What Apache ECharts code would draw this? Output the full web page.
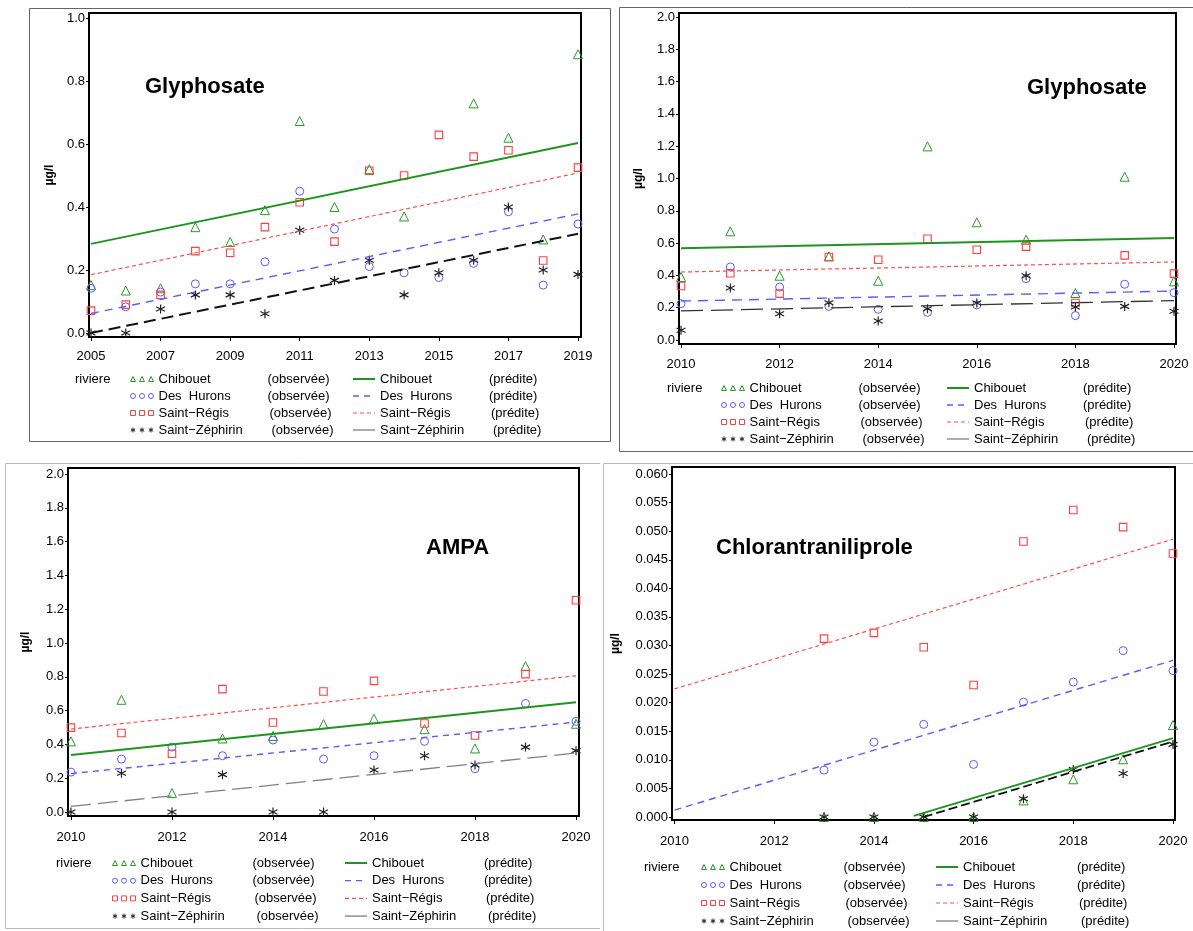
<!DOCTYPE html>
<html><head><meta charset="utf-8">
<script src="https://cdn.jsdelivr.net/npm/echarts@6/dist/echarts.min.js"></script>
<style>html,body{margin:0;padding:0;background:#fff}#c{width:1193px;height:931px}</style>
</head><body><div id="c"></div>
<script>
// ---------- data ----------
const rivers = ['Chibouet', 'Des  Hurons', 'Saint\u2212Régis', 'Saint\u2212Zéphirin'];
const yearsA = [2005,2006,2007,2008,2009,2010,2011,2012,2013,2014,2015,2016,2017,2018,2019];
const yearsB = [2010,2011,2012,2013,2014,2015,2016,2017,2018,2019,2020];
const yearsC = [2013,2014,2015,2016,2017,2018,2019,2020];
const xTicksA = [2005,2007,2009,2011,2013,2015,2017,2019];
const xTicksB = [2010,2012,2014,2016,2018,2020];
const yTicks1 = [0,0.2,0.4,0.6,0.8,1.0];
const yTicks2 = [0,0.2,0.4,0.6,0.8,1.0,1.2,1.4,1.6,1.8,2.0];
const yTicks3 = [0,0.005,0.01,0.015,0.02,0.025,0.03,0.035,0.04,0.045,0.05,0.055,0.06];
const titles = ['Glyphosate', 'Glyphosate', 'AMPA', 'Chlorantraniliprole'];

// Panel 1 : Glyphosate 2005-2019
const chibA = [0.152,0.135,0.142,0.336,0.289,0.39,0.673,0.40,0.52,0.37,null,0.729,0.62,0.297,0.885];
const hurA  = [0.142,0.083,0.13,0.156,0.156,0.226,0.45,0.33,0.211,0.191,0.176,0.221,0.385,0.152,0.346];
const regA  = [0.071,0.09,0.121,0.26,0.255,0.336,0.415,0.29,0.515,0.50,0.629,0.56,0.58,0.23,0.525];
const zepA  = [0.0,0.0,0.076,0.121,0.121,0.061,0.326,0.167,0.231,0.121,0.191,0.231,0.40,0.20,0.186];
const predXA = [2005, 2019];
const predChibA = [0.283, 0.603];
const predHurA  = [0.062, 0.378];
const predRegA  = [0.185, 0.508];
const predZepA  = [0.0, 0.315];

// Panel 2 : Glyphosate 2010-2020
const chibB = [0.39,0.673,0.398,0.518,0.367,1.199,0.729,0.621,0.291,1.011,0.363];
const hurB  = [0.225,0.452,0.328,0.208,0.19,0.171,0.217,0.38,0.151,0.345,0.293];
const regB  = [0.334,0.413,0.287,0.514,0.497,0.627,0.559,0.578,0.229,0.524,0.411];
const zepB  = [0.06,0.322,0.163,0.231,0.118,0.194,0.229,0.398,0.204,0.208,0.178];
const predXB = [2010, 2020];
const predChibB = [0.568, 0.632];
const predHurB  = [0.241, 0.303];
const predRegB  = [0.421, 0.483];
const predZepB  = [0.18, 0.244];

// Panel 3 : AMPA 2010-2020
const chibC = [0.418,0.664,0.112,0.435,0.45,0.52,0.552,0.49,0.376,0.863,0.522];
const hurC  = [0.236,0.313,0.384,0.333,0.426,0.313,0.333,0.418,0.256,0.642,0.536];
const regC  = [0.499,0.467,0.345,0.727,0.53,0.713,0.776,0.524,0.453,0.816,1.253];
const zepC  = [0,0.229,0,0.221,0,0,0.248,0.333,0.278,0.384,0.363];
const predChibC = [0.337, 0.65];
const predHurC  = [0.227, 0.532];
const predRegC  = [0.491, 0.806];
const predZepC  = [0.033, 0.349];

// Panel 4 : Chlorantraniliprole 2013-2020
const chibD = [0,0,0,0,0.0029,0.0066,0.0101,0.0161];
const hurD  = [0.0082,0.0131,0.0162,0.0092,0.0201,0.0236,0.0291,0.0256];
const regD  = [0.0312,0.0322,0.0297,0.0231,0.0482,0.0537,0.0507,0.0461];
const zepD  = [0,0,0,0,0.0032,0.0083,0.0076,0.0127];
const predXChibD = [2014.8, 2020];
const predChibD  = [0.0002, 0.0138];
const predXHurD  = [2010, 2020];
const predHurD   = [0.0012, 0.0274];
const predXRegD  = [2010, 2020];
const predRegD   = [0.0224, 0.0486];
const predXZepD  = [2015, 2020];
const predZepD   = [0.0, 0.0132];

// ---------- styles ----------
const FONT = "'Liberation Sans', Arial, Helvetica, sans-serif";
const GREEN = '#2a9a2a', BLUE = '#5b5bff', RED = '#ff4040', BLACK = '#222', GREY = '#808080';
const CLEAR = 'rgba(255,255,255,0)';
const ASTER = 'path://M5,0V10M0.67,2.5L9.33,7.5M0.67,7.5L9.33,2.5';
const obsName = r => r + ' (observée)';
const predName = r => r + ' (prédite)';

const obsSym = [
  {symbol: 'triangle', size: 9, color: GREEN, bw: 1},
  {symbol: 'circle', size: 8, color: BLUE, bw: 1},
  {symbol: 'rect', size: 7.5, color: RED, bw: 1.1},
  {symbol: ASTER, size: 9, color: BLACK, bw: 1.2}
];

function scatter(gi, ri, xs, ys) {
  const s = obsSym[ri];
  const data = [];
  xs.forEach((x, i) => { if (ys[i] !== null) data.push([x, ys[i]]); });
  return {
    type: 'scatter', name: obsName(rivers[ri]), xAxisIndex: gi, yAxisIndex: gi,
    data: data, symbol: s.symbol, symbolSize: s.size, silent: true,
    itemStyle: {color: CLEAR, borderColor: s.color, borderWidth: s.bw, opacity: 1},
    emphasis: {disabled: true}, select: {disabled: true}, selectedMode: false, z: 3
  };
}
function line(gi, ri, xs, ys, ls) {
  return {
    type: 'line', name: predName(rivers[ri]), xAxisIndex: gi, yAxisIndex: gi, silent: true,
    data: xs.map((x, i) => [x, ys[i]]), symbol: 'none', lineStyle: ls, emphasis: {disabled: true}, z: 4
  };
}
const lsChib = {color: '#1f951f', width: 2, type: 'solid'};
const lsHur = (d) => ({color: BLUE, width: 1.4, type: d});
const lsReg = {color: '#ff5050', width: 1.2, type: [4, 3]};

const series = [
  scatter(0,0,yearsA,chibA), scatter(0,1,yearsA,hurA), scatter(0,2,yearsA,regA), scatter(0,3,yearsA,zepA),
  line(0,0,predXA,predChibA,lsChib), line(0,1,predXA,predHurA,lsHur([8,6])), line(0,2,predXA,predRegA,lsReg),
  line(0,3,predXA,predZepA,{color:'#111', width:2, type:[12,6]}),

  scatter(1,0,yearsB,chibB), scatter(1,1,yearsB,hurB), scatter(1,2,yearsB,regB), scatter(1,3,yearsB,zepB),
  line(1,0,predXB,predChibB,lsChib), line(1,1,predXB,predHurB,lsHur([10,7])), line(1,2,predXB,predRegB,lsReg),
  line(1,3,predXB,predZepB,{color:'#333', width:1.3, type:[22,8]}),

  scatter(2,0,yearsB,chibC), scatter(2,1,yearsB,hurC), scatter(2,2,yearsB,regC), scatter(2,3,yearsB,zepC),
  line(2,0,predXB,predChibC,lsChib), line(2,1,predXB,predHurC,lsHur([6,5])), line(2,2,predXB,predRegC,lsReg),
  line(2,3,predXB,predZepC,{color:GREY, width:1.3, type:[20,7]}),

  scatter(3,0,yearsC,chibD), scatter(3,1,yearsC,hurD), scatter(3,2,yearsC,regD), scatter(3,3,yearsC,zepD),
  line(3,0,predXChibD,predChibD,lsChib), line(3,1,predXHurD,predHurD,lsHur([7,5])), line(3,2,predXRegD,predRegD,lsReg),
  line(3,3,predXZepD,predZepD,{color:'#111', width:1.8, type:[9,4]})
];

// ---------- layout ----------
const grids = [
  {left: 89, top: 13, width: 492, height: 324},
  {left: 679, top: 13, width: 497, height: 331},
  {left: 68, top: 468, width: 511, height: 348},
  {left: 672, top: 467, width: 503, height: 353}
];
const xRange = [[2004.943, 2019.086], [2009.959, 2020.041], [2009.941, 2020.059], [2009.95, 2020.04]];
const yRange = [[-0.0127, 1.0159], [-0.0248, 2.0248], [-0.0237, 2.0355], [-0.000525, 0.061225]];
const xTickSets = [xTicksA, xTicksB, xTicksB, xTicksB];
const yTickSets = [yTicks1, yTicks2, yTicks2, yTicks3];
const yDec = [1, 1, 1, 3];
const xMargin = [13, 14, 15, 15];
const nameGaps = [33, 34, 36, 50];

const xAxis = grids.map((g, i) => ({
  type: 'value', gridIndex: i, min: xRange[i][0], max: xRange[i][1],
  axisLine: {show: true, onZero: false, lineStyle: {color: '#000', width: 2}},
  axisTick: {show: true, length: 4, customValues: xTickSets[i], lineStyle: {color: '#000'}},
  axisLabel: {customValues: xTickSets[i], formatter: v => String(Math.round(v)), margin: xMargin[i],
              color: '#000', fontSize: 13, fontFamily: FONT},
  splitLine: {show: false}
}));
const yAxis = grids.map((g, i) => ({
  type: 'value', gridIndex: i, min: yRange[i][0], max: yRange[i][1],
  name: 'µg/l', nameLocation: 'middle', nameRotate: 90, nameGap: nameGaps[i],
  nameTextStyle: {color: '#000', fontSize: 12, fontWeight: 'bold', fontFamily: FONT},
  axisLine: {show: true, onZero: false, lineStyle: {color: '#000', width: 2}},
  axisTick: {show: true, length: 3, customValues: yTickSets[i], lineStyle: {color: '#000'}},
  axisLabel: {customValues: yTickSets[i], formatter: v => Number(v).toFixed(yDec[i]), margin: 4,
              color: '#000', fontSize: 13, fontFamily: FONT},
  splitLine: {show: false}
}));

const titlePos = [[145, 76], [1027, 77], [426, 537], [716, 537]];
const title = titles.map((t, i) => ({
  text: t, left: titlePos[i][0], top: titlePos[i][1], padding: 0,
  textStyle: {fontSize: 22, fontWeight: 'bold', color: '#000', fontFamily: FONT}
}));

// legend
const obsIcons = [
  'path://M0,5L2.5,0L5,5Z M9,5L11.5,0L14,5Z M18,5L20.5,0L23,5Z',
  'path://M0,2.5a2.5,2.5 0 1,0 5,0a2.5,2.5 0 1,0 -5,0Z M9,2.5a2.5,2.5 0 1,0 5,0a2.5,2.5 0 1,0 -5,0Z M18,2.5a2.5,2.5 0 1,0 5,0a2.5,2.5 0 1,0 -5,0Z',
  'path://M0,0h5v5h-5Z M9,0h5v5h-5Z M18,0h5v5h-5Z',
  'path://M2.5,0V5M0.3,1.25L4.7,3.75M0.3,3.75L4.7,1.25 M11.5,0V5M9.3,1.25L13.7,3.75M9.3,3.75L13.7,1.25 M20.5,0V5M18.3,1.25L22.7,3.75M18.3,3.75L22.7,1.25'
];
const obsColors = [GREEN, BLUE, RED, BLACK];
const predLegendStyle = [
  {color: '#1f951f', width: 2, type: 'solid'},
  {color: BLUE, width: 1.3, type: [6, 5]},
  {color: '#ff5050', width: 1.2, type: [4, 3]},
  {color: GREY, width: 1.3, type: 'solid'}
];
const legendRows = [[371, 17], [380, 17], [855, 17.7], [859, 18]];
const legendObsX = [130, 721, 112, 701];
const legendPredX = [352, 946, 344, 935];
const colW = [109, 109, 112, 114];
const extraW = [0, 0, 2, 4];
const riviereX = [75, 667, 56, 644];

function legendFormatter(i) {
  return function (name) {
    const k = name.lastIndexOf(' (');
    const r = name.slice(0, k), tail = name.slice(k + 1);
    const ri = rivers.indexOf(r);
    return '{a' + (ri < 0 ? 0 : ri) + '|' + r + '}{b|' + tail + '}';
  };
}
function richFor(i) {
  const base = {fontSize: 13, fontFamily: FONT, color: '#000', lineHeight: 16, height: 16};
  const rich = {b: Object.assign({}, base)};
  for (let k = 0; k < 4; k++) rich['a' + k] = Object.assign({}, base, {width: colW[i] + extraW[k]});
  return rich;
}
const legend = [];
for (let i = 0; i < 4; i++) {
  legend.push({
    orient: 'vertical', left: legendObsX[i], top: legendRows[i][0], padding: 0,
    itemGap: legendRows[i][1] - 16, itemWidth: 23, itemHeight: 5, selectedMode: false,
    formatter: legendFormatter(i), textStyle: {rich: richFor(i)},
    data: rivers.map((r, k) => ({
      name: obsName(r), icon: obsIcons[k],
      itemStyle: {color: CLEAR, borderColor: obsColors[k], borderWidth: 1}
    }))
  });
  legend.push({
    orient: 'vertical', left: legendPredX[i], top: legendRows[i][0], padding: 0,
    itemGap: legendRows[i][1] - 16, itemWidth: 22, itemHeight: 5, selectedMode: false,
    formatter: legendFormatter(i), textStyle: {rich: richFor(i)},
    data: rivers.map((r, k) => ({
      name: predName(r),
      lineStyle: predLegendStyle[k],
      itemStyle: {color: CLEAR, borderColor: CLEAR, borderWidth: 0}
    }))
  });
}

const graphic = [
  {type: 'rect', shape: {x: 29.5, y: 8.5, width: 581, height: 433}, style: {fill: CLEAR, stroke: '#666', lineWidth: 1}, silent: true},
  {type: 'polyline', shape: {points: [[1193, 7.5], [619.5, 7.5], [619.5, 451.5], [1193, 451.5]]}, style: {fill: CLEAR, stroke: '#666', lineWidth: 1}, silent: true},
  {type: 'polyline', shape: {points: [[600, 463.5], [5.5, 463.5], [5.5, 928.5], [600, 928.5]]}, style: {fill: CLEAR, stroke: '#bbb', lineWidth: 1}, silent: true},
  {type: 'polyline', shape: {points: [[1193, 463.5], [603.5, 463.5], [603.5, 931]]}, style: {fill: CLEAR, stroke: '#bbb', lineWidth: 1}, silent: true}
];
for (let i = 0; i < 4; i++) {
  graphic.push({type: 'text', left: riviereX[i], top: legendRows[i][0],
    style: {text: 'riviere', fontSize: 13, fontFamily: FONT, fill: '#000', lineHeight: 16}, silent: true});
}

const chart = echarts.init(document.getElementById('c'), null, {renderer: 'canvas'});
chart.setOption({
  backgroundColor: '#fff',
  animation: false,
  hoverLayerThreshold: Infinity,
  title: title,
  grid: grids.map(g => Object.assign({show: true, borderColor: '#000', borderWidth: 2, backgroundColor: CLEAR, containLabel: false}, g)),
  xAxis: xAxis,
  yAxis: yAxis,
  legend: legend,
  graphic: graphic,
  series: series
});
</script></body></html>
